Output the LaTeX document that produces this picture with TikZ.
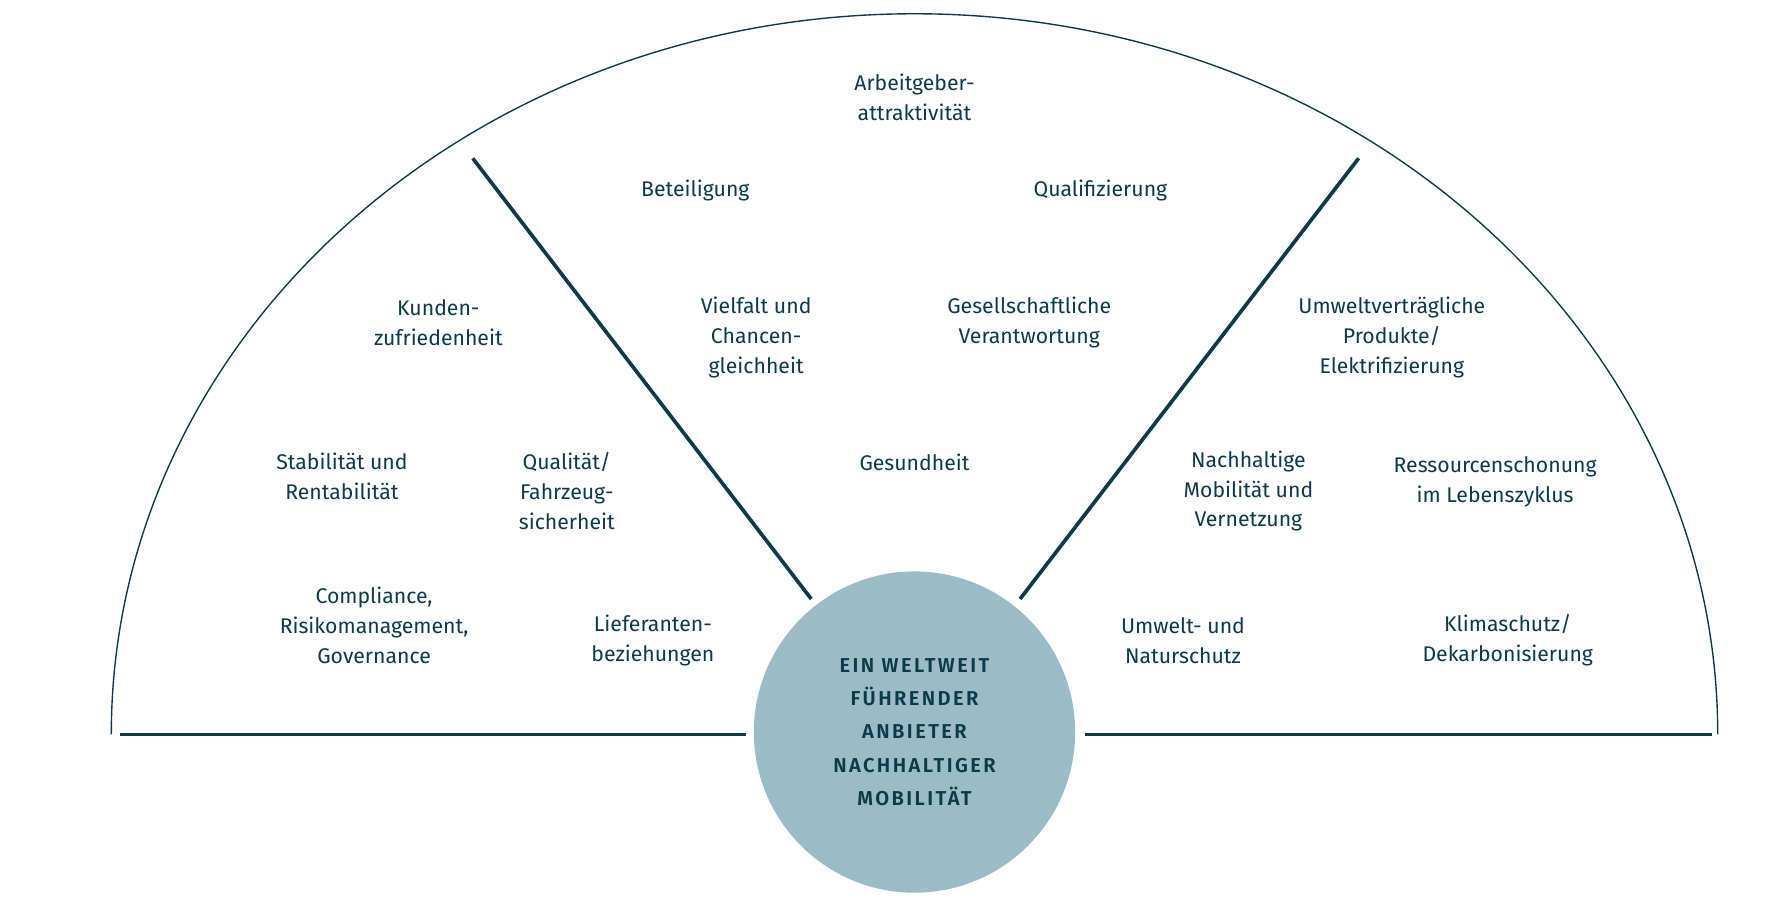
\documentclass[tikz,border=0pt]{standalone}
\usepackage{fontspec}
\setmainfont{Fira Sans}
\newfontfamily\spaced[LetterSpace=12]{Fira Sans SemiBold}
\usetikzlibrary{positioning}
\definecolor{petrol}{HTML}{0D3A4A}
\definecolor{circlefill}{HTML}{9BBCC6}
\tikzset{
  topic/.style={align=center, text=petrol, font=\fontsize{18.5}{26}\selectfont},
  divider/.style={draw=petrol, line width=3.2pt},
}
\begin{document}
\begin{tikzpicture}[x=1pt, y=-1pt]
    \useasboundingbox (0,0) rectangle (1560,784);
    \draw[petrol, line width=1.2pt] (97,640) arc[start angle=180, end angle=360, x radius=700, y radius=628];
    \coordinate (bl) at (105,640);
    \coordinate (blr) at (650,640);
    \coordinate (brl) at (946,640);
    \coordinate (br) at (1492,640);
    \coordinate (dl) at (412,138);
    \coordinate (dlc) at (707,522);
    \coordinate (dr) at (1184,138);
    \coordinate (drc) at (889,522);
    \draw[divider] (bl) -- (blr);
    \draw[divider] (brl) -- (br);
    \draw[divider] (dl) -- (dlc);
    \draw[divider] (dr) -- (drc);

    \node[circle, fill=circlefill, minimum size=280pt, inner sep=0pt, align=center, text=petrol,
          font=\spaced\fontsize{17.5}{29}\selectfont] (core) at (797,638)
          {EIN WELTWEIT\\FÜHRENDER\\ANBIETER\\NACHHALTIGER\\MOBILITÄT};

    \node[topic] (arbeit) at (797,85) {Arbeitgeber-\\attraktivität};
    \node[topic] (beteil) at (606,166) {Beteiligung};
    \node[topic] (quali) at (959,166) {Qualifizierung};
    \node[topic] (kunden) at (382,281) {Kunden-\\zufriedenheit};
    \node[topic] (vielfalt) at (659,294) {Vielfalt und\\Chancen-\\gleichheit};
    \node[topic] (gesell) at (897,281) {Gesellschaftliche\\Verantwortung};
    \node[topic] (umweltprod) at (1213,294) {Umweltverträgliche\\Produkte/\\Elektrifizierung};
    \node[topic] (stabil) at (298,415) {Stabilität und\\Rentabilität};
    \node[topic] (qualitaet) at (494,428) {Qualität/\\Fahrzeug-\\sicherheit};
    \node[topic] (gesund) at (797,403) {Gesundheit};
    \node[topic] (nachhalt) at (1088,428) {Nachhaltige\\Mobilität und\\Vernetzung};
    \node[topic] (ressourcen) at (1303,420) {Ressourcenschonung\\im Lebenszyklus};
    \node[topic] (compliance) at (326,545) {Compliance,\\Risikomanagement,\\Governance};
    \node[topic] (liefer) at (569,558) {Lieferanten-\\beziehungen};
    \node[topic] (natur) at (1031,558) {Umwelt- und\\Naturschutz};
    \node[topic] (klima) at (1314,558) {Klimaschutz/\\Dekarbonisierung};
\end{tikzpicture}
\end{document}
